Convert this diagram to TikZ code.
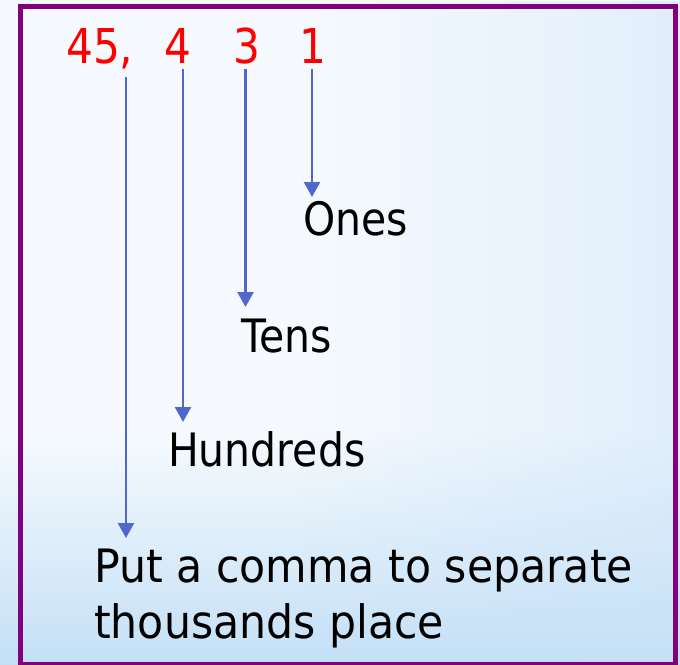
\documentclass[tikz,border=0pt]{standalone}
\usepackage{fontspec}
\setmainfont{DejaVu Sans}
\newfontfamily\redfont{DejaVu Sans}[FakeStretch=0.88]
\newfontfamily\lblfont{DejaVu Sans}[FakeStretch=0.89]
\newfontfamily\putfont{DejaVu Sans}[FakeStretch=0.927]
\usetikzlibrary{arrows.meta,calc,fadings}
\definecolor{framepurple}{RGB}{128,0,128}
\definecolor{arrowblue}{RGB}{80,104,206}
\definecolor{digitred}{RGB}{255,0,0}
\definecolor{bgtop}{RGB}{246,250,254}
\definecolor{bgbot}{RGB}{196,224,246}
\definecolor{bgright}{RGB}{200,226,248}
\tikzset{
  reddigit/.style={inner sep=0pt, anchor=base, text=digitred, font=\redfont\fontsize{48}{56}\selectfont},
  lbl/.style={inner sep=0pt, anchor=base west, text=black, font=\lblfont\fontsize{46}{56}\selectfont},
  puttext/.style={inner sep=0pt, anchor=base west, align=left, text=black, font=\putfont\fontsize{46}{56}\selectfont},
  conn/.style={draw=arrowblue, line width=2.3pt, -{Triangle[width=16pt,length=15pt]}, arrowblue},
}
\begin{document}
\begin{tikzpicture}[x=1pt,y=-1pt]
\useasboundingbox (0,0) rectangle (680,664);
\fill[bgtop] (0,0) rectangle (680,664);
\shade[top color=bgtop, bottom color=bgbot] (0,430) rectangle (680,664);
\fill[bgright, path fading=west, opacity=0.45] (300,0) rectangle (680,664);
\draw[framepurple, line width=5.5pt] (20.5,6.5) rectangle (675.5,665);

\node[reddigit, anchor=base west] (d45) at (66,63) {45,};
\node[reddigit] (d4) at (178,63) {4};
\node[reddigit] (d3) at (246.5,63) {3};
\node[reddigit] (d1) at (312.5,63) {1};

\node[lbl] (ones) at (303,235) {Ones};
\node[lbl] (tens) at (241,352) {Tens};
\node[lbl] (hund) at (168,466) {Hundreds};
\node[puttext] (put) at (94,638) {Put a comma to separate\\thousands place};

\coordinate (cm) at (126,77);
\coordinate (a4) at ($(d4.base)+(5,6)$);
\coordinate (a3) at ($(d3.base)+(-1,6)$);
\coordinate (a1) at ($(d1.base)+(-0.5,6)$);
\draw[conn] (cm) -- ($(cm |- put.base)+(0,-100)$);
\draw[conn] (a4) -- ($(a4 |- hund.base)+(0,-44)$);
\draw[conn] (a3) -- ($(a3 |- tens.base)+(0,-45)$);
\draw[conn] (a1) -- ($(a1 |- ones.base)+(0,-38)$);
\end{tikzpicture}
\end{document}
